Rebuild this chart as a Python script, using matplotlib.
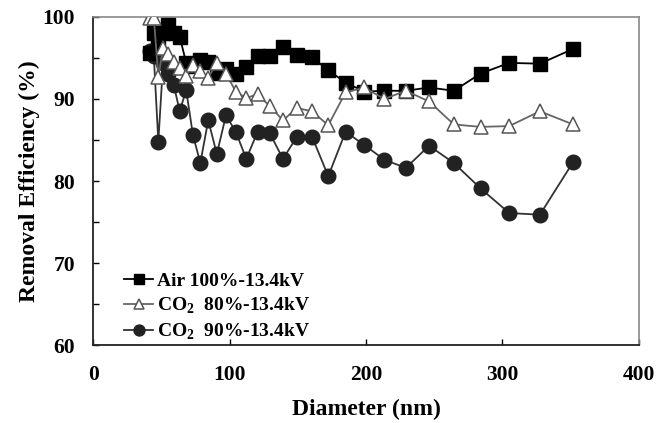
import numpy as np
import matplotlib
matplotlib.use("Agg")
import matplotlib.pyplot as plt

plt.rcParams['font.family'] = ['Liberation Serif', 'DejaVu Serif']
plt.rcParams['font.weight'] = 'bold'
plt.rcParams['mathtext.fontset'] = 'custom'
plt.rcParams['mathtext.rm'] = 'Liberation Serif:bold'
plt.rcParams['mathtext.bf'] = 'Liberation Serif:bold'

# particle diameter bins (nm)
diameter = [41.4, 44.4, 47.7, 51.2, 55.0, 59.0, 63.4, 68.1, 73.1, 78.5,
            84.3, 90.6, 97.3, 104.5, 112.2, 120.5, 129.5, 139.1, 149.3, 160.4,
            172.3, 185.0, 198.7, 213.4, 229.2, 246.2, 264.4, 284.0, 305.0, 327.5,
            351.8]

# removal efficiency (%)
air_100 = [95.6, 98.0, 97.0, 98.0, 99.0, 98.0, 97.6, 94.4, 94.0, 94.8,
           94.5, 93.2, 93.6, 93.1, 93.9, 95.2, 95.2, 96.3, 95.4, 95.1,
           93.5, 92.0, 90.9, 91.0, 91.0, 91.4, 91.0, 93.1, 94.4, 94.3,
           96.1]
co2_80 = [99.9, 99.9, 92.7, 96.2, 95.5, 94.5, 93.8, 92.8, 94.2, 93.4,
          92.6, 94.4, 93.1, 90.9, 90.1, 90.6, 89.1, 87.4, 88.9, 88.5,
          86.8, 90.8, 91.4, 90.0, 91.0, 89.7, 86.9, 86.6, 86.7, 88.5,
          86.9]
co2_90 = [95.8, 95.2, 84.8, 94.4, 93.1, 91.7, 88.5, 91.1, 85.6, 82.2,
          87.4, 83.3, 88.0, 86.0, 82.7, 86.0, 85.8, 82.7, 85.4, 85.4,
          80.6, 86.0, 84.4, 82.6, 81.6, 84.3, 82.2, 79.1, 76.1, 75.9,
          82.3]

labels = ["Air 100%-13.4kV",
          r"CO$_{\mathbf{2}}$  80%-13.4kV",
          r"CO$_{\mathbf{2}}$  90%-13.4kV"]

fig = plt.figure(figsize=(6.71, 4.23), dpi=100)
ax = fig.add_axes([0.139, 0.184, 0.813, 0.776])

ax.plot(diameter, air_100, '-s', color='black', lw=1.3, ms=10.5,
        mfc='black', mec='black', label=labels[0], zorder=3)
ax.plot(diameter, co2_80, '-^', color='#666666', lw=1.3, ms=10,
        mfc='white', mec='#555555', mew=1.1, label=labels[1], zorder=4)
ax.plot(diameter, co2_90, '-o', color='#333333', lw=1.3, ms=10.5,
        mfc='#222222', mec='#222222', label=labels[2], zorder=2)

ax.set_xlim(0, 400)
ax.set_ylim(60, 100)
ax.set_xticks([0, 100, 200, 300, 400])
ax.set_yticks(np.arange(60, 101, 5))
ax.set_yticklabels([str(v) if v % 10 == 0 else '' for v in range(60, 101, 5)])
ax.tick_params(direction='in', length=4, width=1, labelsize=15.5)
ax.tick_params(axis='y', pad=13)
ax.tick_params(axis='x', pad=14)

for side in ['left', 'bottom']:
    ax.spines[side].set_color('#222222')
    ax.spines[side].set_linewidth(1.3)
for side in ['top', 'right']:
    ax.spines[side].set_color('#888888')
    ax.spines[side].set_linewidth(1.2)

ax.set_xlabel('Diameter (nm)', fontsize=17, fontweight='bold', labelpad=10)
ax.set_ylabel('Removal Efficiency (%)', fontsize=17, fontweight='bold', labelpad=2)

leg = ax.legend(loc='lower left', bbox_to_anchor=(0.025, -0.043), frameon=False,
                fontsize=14, handlelength=1.45, handletextpad=0.25,
                labelspacing=0.28, markerscale=0.75)

plt.savefig('out.png', dpi=100)
plt.close()
